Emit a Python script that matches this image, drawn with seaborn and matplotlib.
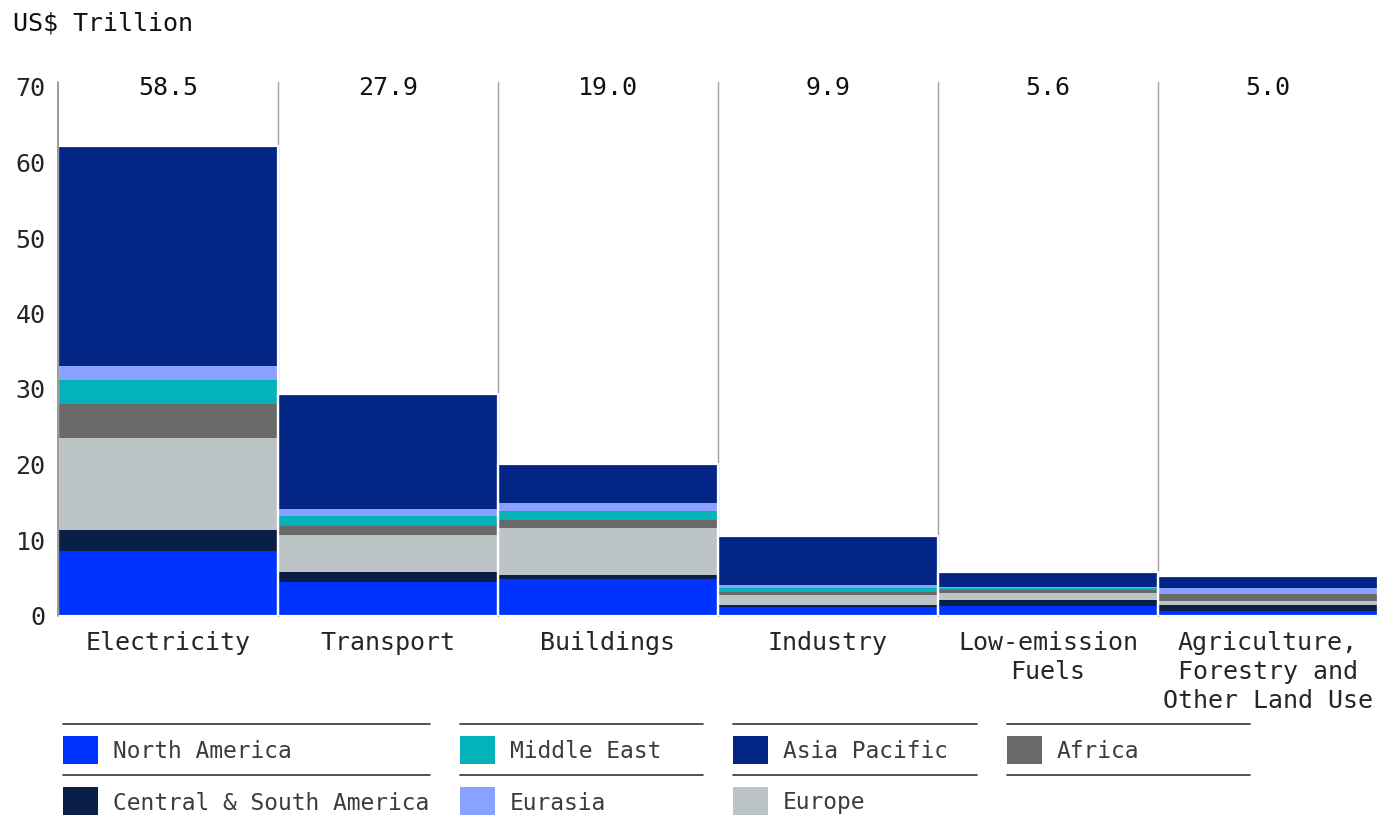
"""Stacked bars - investment by sector and region (US$ Trillion)"""
import pandas as pd
import matplotlib.pyplot as plt
from matplotlib.patches import Rectangle
from matplotlib.lines import Line2D
import seaborn as sns

# Data
sectors = ['Electricity', 'Transport', 'Buildings', 'Industry',
           'Low-emission\nFuels', 'Agriculture,\nForestry and\nOther Land Use']
total_labels = [58.5, 27.9, 19.0, 9.9, 5.6, 5.0]

north_america = [8.5, 4.4, 4.9, 1.1, 1.3, 0.6]
central_south_america = [2.8, 1.3, 0.5, 0.3, 0.8, 0.8]
europe = [12.2, 5.0, 6.2, 1.3, 0.9, 0.5]
africa = [4.5, 1.2, 1.1, 0.4, 0.4, 0.9]
middle_east = [3.2, 1.3, 1.1, 0.5, 0.3, 0.0]
eurasia = [1.8, 0.9, 1.1, 0.4, 0.1, 0.8]
asia_pacific = [29.2, 15.3, 5.2, 6.5, 2.0, 1.6]

# stack order, bottom to top
regions = ['North America', 'Central & South America', 'Europe', 'Africa',
           'Middle East', 'Eurasia', 'Asia Pacific']
values = [north_america, central_south_america, europe, africa,
          middle_east, eurasia, asia_pacific]
colors = {'North America': '#0033ff', 'Central & South America': '#0a1f48',
          'Europe': '#bcc4c5', 'Africa': '#696969', 'Middle East': '#03b3b9',
          'Eurasia': '#8aa2ff', 'Asia Pacific': '#032686'}

df = pd.DataFrame(dict(zip(regions, values)), index=sectors)
cum = df.cumsum(axis=1)
df_cum = cum.reset_index(names='sector')

sns.set_style('white')
plt.rcParams['font.family'] = ['DejaVu Sans Mono']
plt.rcParams['text.color'] = '#111111'
FS = 18

fig = plt.figure(figsize=(13.83, 8.23), dpi=100)
ax = fig.add_axes([58 / 1383, 1 - 615.5 / 823, 1320 / 1383, 528.5 / 823])

# gray separators behind bars
for i in range(1, len(sectors)):
    ax.axvline(i - 0.5, ymin=0, ymax=1.01, color='#a0a0a0', lw=1, zorder=0, clip_on=False)

# draw cumulative layers from the top down
for reg in regions[::-1]:
    sns.barplot(data=df_cum, x='sector', y=reg, order=sectors, color=colors[reg],
                width=1, linewidth=0, saturation=1, ax=ax, zorder=2)

# white outline round each bar
sns.barplot(data=df_cum, x='sector', y='Asia Pacific', order=sectors, color='white',
            width=1, fill=False, linewidth=1.6, ax=ax, zorder=3)

ax.axvline(-0.5, ymin=0, ymax=1.01, color='#8a8a8a', lw=1.2, zorder=4, clip_on=False)

for i, t in enumerate(total_labels):
    ax.text(i, 69.9, f'{t:.1f}', ha='center', va='center', fontsize=FS)

ax.set_xlim(-0.5, len(sectors) - 0.5)
ax.set_ylim(0, 70)
ax.set_yticks(range(0, 71, 10))
ax.set_xlabel('')
ax.set_ylabel('')
ax.tick_params(axis='y', length=0, pad=9, labelsize=FS)
ax.tick_params(axis='x', length=0, pad=11, labelsize=FS)
for lab in ax.get_xticklabels():
    lab.set_multialignment('center')
    lab.set_linespacing(1.28)
sns.despine(ax=ax, left=True, bottom=True)

fig.text(13 / 1383, 1 - 23 / 823, 'US$ Trillion', ha='left', va='center', fontsize=FS)

# legend laid out in a grid with rules above each row
col_x = [63, 460, 733, 1007]
col_w = [367, 243, 244, 243]
row_line = [724, 775]
row_mid = [750, 801]
grid = [['North America', 'Middle East', 'Asia Pacific', 'Africa'],
        ['Central & South America', 'Eurasia', 'Europe', None]]
W, H = 1383, 823
for r in range(2):
    for c in range(4):
        y = 1 - row_line[r] / H
        fig.add_artist(Line2D([col_x[c] / W, (col_x[c] + col_w[c]) / W], [y, y],
                              transform=fig.transFigure, color='#2c3347', lw=1.2))
        name = grid[r][c]
        if name is None:
            continue
        fig.add_artist(Rectangle((col_x[c] / W, 1 - (row_mid[r] + 14) / H), 35 / W, 28 / H,
                                 transform=fig.transFigure, color=colors[name], lw=0))
        fig.text((col_x[c] + 50) / W, 1 - (row_mid[r] + 2) / H, name, ha='left', va='center',
                 fontsize=16.5, color='#3c3c3c')

plt.savefig('out.png', dpi=100)
